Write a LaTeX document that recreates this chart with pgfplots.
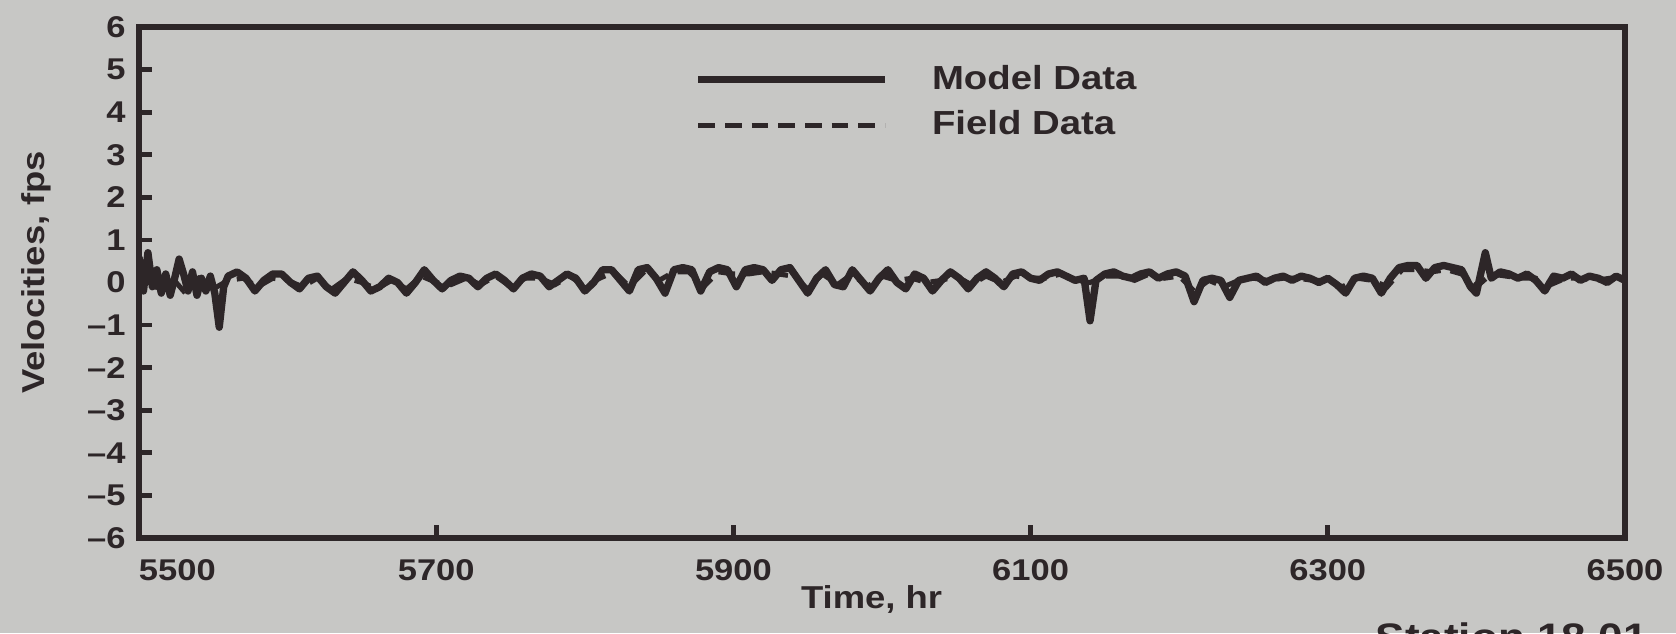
\documentclass[border=0pt]{standalone}
\usepackage{fontspec}
\setmainfont{Liberation Sans}
\newfontfamily\hv{Liberation Sans}[FakeStretch=1.15]
\usepackage{pgfplots}
\usepackage{pgfplotstable}
\pgfplotsset{compat=1.18}
\definecolor{bg}{RGB}{199,199,197}
\definecolor{ink}{RGB}{45,38,40}

\pgfplotstableread{
t v
5500 0.6
5503 -0.2
5506 0.7
5509 -0.1
5512 0.3
5515 -0.25
5518 0.2
5521 -0.3
5524 0.1
5527 0.55
5530 0.2
5533 -0.2
5536 0.25
5539 -0.3
5542 0.1
5545 -0.2
5548 0.15
5551 -0.25
5554 -1.05
5557 -0.1
5560 0.15
5566 0.25
5572 0.1
5578 -0.2
5584 0.05
5590 0.2
5596 0.2
5602 0.0
5608 -0.15
5614 0.1
5620 0.15
5626 -0.1
5632 -0.25
5638 0.0
5644 0.25
5650 0.05
5656 -0.2
5662 -0.1
5668 0.1
5674 0.0
5680 -0.25
5686 0.0
5692 0.3
5698 0.05
5704 -0.15
5710 0.05
5716 0.15
5722 0.1
5728 -0.1
5734 0.1
5740 0.2
5746 0.05
5752 -0.15
5758 0.1
5764 0.2
5770 0.15
5776 -0.1
5782 0.05
5788 0.2
5794 0.1
5800 -0.2
5806 0.0
5812 0.3
5818 0.3
5824 0.05
5830 -0.2
5836 0.3
5842 0.35
5848 0.1
5854 -0.25
5860 0.3
5866 0.35
5872 0.3
5878 -0.2
5884 0.25
5890 0.35
5896 0.3
5902 -0.1
5908 0.3
5914 0.35
5920 0.3
5926 0.05
5932 0.3
5938 0.35
5944 0.05
5950 -0.25
5956 0.1
5962 0.3
5968 -0.05
5974 -0.1
5980 0.3
5986 0.05
5992 -0.2
5998 0.1
6004 0.3
6010 0.0
6016 -0.15
6022 0.2
6028 0.1
6034 -0.2
6040 0.05
6046 0.25
6052 0.1
6058 -0.15
6064 0.1
6070 0.25
6076 0.1
6082 -0.1
6088 0.2
6094 0.25
6100 0.1
6106 0.05
6112 0.2
6118 0.25
6124 0.15
6130 0.05
6136 0.1
6140 -0.9
6144 0.05
6150 0.2
6156 0.25
6162 0.15
6168 0.1
6174 0.2
6180 0.25
6186 0.1
6192 0.2
6198 0.25
6204 0.15
6210 -0.45
6216 0.05
6222 0.1
6228 0.05
6234 -0.35
6240 0.05
6246 0.1
6252 0.15
6258 0.0
6264 0.1
6270 0.15
6276 0.05
6282 0.15
6288 0.1
6294 0.0
6300 0.1
6306 -0.05
6312 -0.25
6318 0.1
6324 0.15
6330 0.1
6336 -0.25
6342 0.1
6348 0.35
6354 0.4
6360 0.4
6366 0.1
6372 0.35
6378 0.4
6384 0.35
6390 0.3
6396 -0.1
6400 -0.25
6406 0.7
6410 0.1
6416 0.25
6422 0.2
6428 0.1
6434 0.2
6440 0.05
6446 -0.2
6452 0.15
6458 0.1
6464 0.2
6470 0.05
6476 0.15
6482 0.1
6488 0.0
6494 0.15
6500 0.05
}\modeldata

\pgfplotstableread{
t v
5500 0.35
5510 -0.15
5520 0.2
5530 -0.2
5540 0.1
5550 -0.15
5560 0.05
5570 0.1
5580 -0.1
5590 0.1
5600 0.05
5610 -0.1
5620 0.1
5630 -0.15
5640 0.1
5650 0.0
5660 -0.15
5670 0.05
5680 -0.15
5690 0.15
5700 0.0
5710 -0.05
5720 0.1
5730 -0.05
5740 0.15
5750 -0.1
5760 0.1
5770 0.1
5780 -0.05
5790 0.15
5800 -0.1
5810 0.1
5820 0.25
5830 -0.1
5840 0.25
5850 0.05
5860 0.25
5870 0.25
5880 -0.1
5890 0.25
5900 0.2
5910 0.2
5920 0.25
5930 0.2
5940 0.15
5950 -0.15
5960 0.2
5970 -0.05
5980 0.2
5990 -0.1
6000 0.15
6010 0.05
6020 0.1
6030 0.0
6040 0.05
6050 0.15
6060 -0.05
6070 0.15
6080 0.0
6090 0.15
6100 0.1
6110 0.1
6120 0.2
6130 0.05
6140 0.0
6150 0.15
6160 0.15
6170 0.05
6180 0.2
6190 0.1
6200 0.15
6210 -0.2
6220 0.05
6230 -0.1
6240 0.05
6250 0.1
6260 0.05
6270 0.1
6280 0.1
6290 0.05
6300 0.05
6310 -0.1
6320 0.1
6330 0.05
6340 -0.1
6350 0.3
6360 0.3
6370 0.25
6380 0.3
6390 0.2
6400 -0.1
6410 0.2
6420 0.15
6430 0.1
6440 0.1
6450 -0.05
6460 0.1
6470 0.1
6480 0.05
6490 0.1
6500 0.05
}\fielddata

\begin{document}
\begin{tikzpicture}
\fill[bg] (-41.7pt,-28.5pt) rectangle (461.1pt,161.4pt);
\begin{axis}[
  at={(0,0)}, anchor=south west,
  scale only axis, width=445.8pt, height=153.3pt,
  xmin=5500, xmax=6500, ymin=-6, ymax=6,
  xtick={5500,5700,5900,6100,6300,6500},
  xticklabels={\makebox[0pt][l]{5500},5700,5900,6100,6300,6500},
  ytick={-6,-5,-4,-3,-2,-1,0,1,2,3,4,5,6},
  yticklabels={\textendash6,\textendash5,\textendash4,\textendash3,\textendash2,\textendash1,0,1,2,3,4,5,6},
  tick pos=left, tick align=inside, major tick length=4pt,
  axis line style={ink, line width=1.7pt},
  every tick/.style={ink, line width=1.4pt},
  /pgf/number format/assume math mode=true,
  tick label style={font=\hv\bfseries\fontsize{9}{10}\selectfont, text=ink},
  xticklabel style={yshift=-3pt},
  yticklabel style={xshift=-0.5pt},
  xlabel={Time, hr},
  ylabel={Velocities, fps},
  xlabel style={font=\hv\bfseries\fontsize{9.5}{11}\selectfont, text=ink, at={(axis description cs:0.493,-0.121)}, anchor=center},
  ylabel style={font=\hv\bfseries\fontsize{9.5}{12}\selectfont, text=ink, at={(axis description cs:-0.069,0.52)}, anchor=center},
  legend style={at={(rel axis cs:0.3735,0.94)}, anchor=north west, draw=none, fill=none,
    inner sep=0pt, row sep=1pt, font=\hv\bfseries\fontsize{10}{12}\selectfont, text=ink,
    /tikz/every odd column/.append style={column sep=11pt}},
  legend cell align=left,
  legend image code/.code={\draw[#1] (0pt,0pt) -- (56pt,0pt);},
]
\addplot[ink, line width=2.2pt, line join=round] table[x=t, y=v] {\modeldata};
\addlegendentry{Model Data}
\addplot[ink, line width=1.5pt, dash pattern=on 5pt off 3pt] table[x=t, y=v] {\fielddata};
\addlegendentry{Field Data}
\end{axis}
\node[anchor=north west, inner sep=0pt, text=ink, font=\hv\bfseries\fontsize{11.5}{13}\selectfont] at (370.8pt,-25.2pt) {Station 18.01};
\pgfresetboundingbox
\path[use as bounding box] (-41.7pt,-28.5pt) rectangle (461.1pt,161.4pt);
\end{tikzpicture}
\end{document}
